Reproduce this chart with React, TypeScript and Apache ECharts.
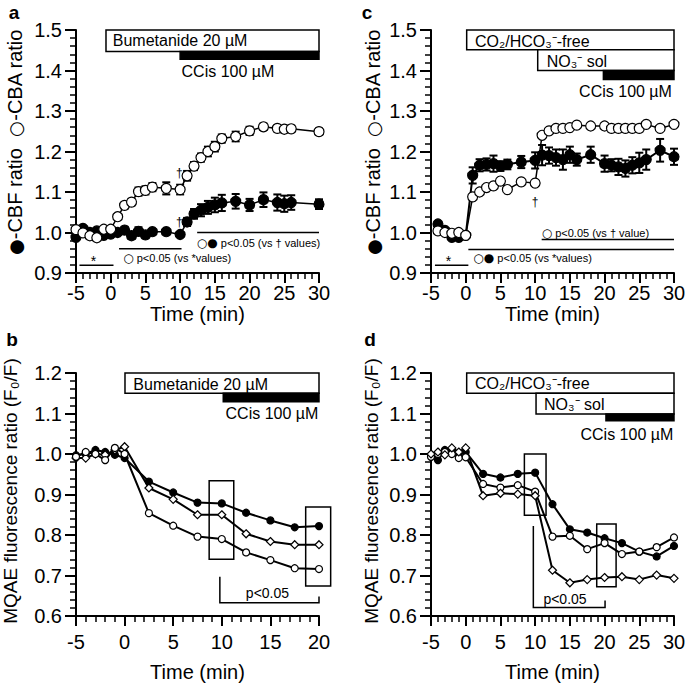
import React, { useEffect, useRef } from 'react';
import * as echarts from 'echarts';

const FONT = '"Liberation Sans", Arial, Helvetica, sans-serif';
const SYMFONT = '"DejaVu Sans", sans-serif';

// ---------- Panel a (CBF / CBA, bumetanide) ----------
const timeA = [-5, -4, -3, -2, -1, 0, 1, 2, 3, 4, 5, 6, 8, 10, 11, 12, 13, 14, 15, 16, 18, 20, 22, 24, 25, 26, 30];
const cbaA = [1.007, 0.999, 0.992, 0.987, 1.008, 1.008, 1.039, 1.067, 1.075, 1.101, 1.104, 1.112, 1.109, 1.106, 1.14, 1.164, 1.185, 1.2, 1.212, 1.232, 1.237, 1.251, 1.261, 1.257, 1.255, 1.256, 1.249];
const cbaAErr = [0.004, 0.004, 0.004, 0.004, 0.004, 0.004, 0.006, 0.008, 0.008, 0.01, 0.01, 0.01, 0.015, 0.012, 0.012, 0.01, 0.01, 0.012, 0.012, 0.01, 0.012, 0.01, 0.008, 0.008, 0.008, 0.008, 0.008];
const cbfA = [0.988, 1.01, 1.0, 1.004, 0.993, 0.996, 1.0, 1.006, 0.992, 1.003, 0.994, 1.002, 1.002, 0.995, 1.026, 1.046, 1.055, 1.062, 1.068, 1.073, 1.077, 1.068, 1.081, 1.074, 1.071, 1.074, 1.07];
const cbfAErr = [0.004, 0.004, 0.004, 0.004, 0.004, 0.004, 0.006, 0.008, 0.008, 0.01, 0.008, 0.006, 0.005, 0.006, 0.01, 0.012, 0.015, 0.016, 0.018, 0.02, 0.018, 0.015, 0.018, 0.02, 0.02, 0.018, 0.012];

// ---------- Panel c (CBF / CBA, CO2/HCO3- free, NO3-) ----------
const timeC = [-4, -3, -2, -1, 0, 1, 2, 3, 4, 5, 6, 8, 10, 11, 12, 13, 14, 15, 16, 18, 20, 21, 22, 23, 24, 25, 26, 28, 30];
const cbaC = [1.004, 1.0, 0.998, 1.0, 0.993, 1.088, 1.1, 1.111, 1.115, 1.127, 1.106, 1.125, 1.122, 1.24, 1.251, 1.257, 1.257, 1.259, 1.265, 1.263, 1.263, 1.257, 1.257, 1.257, 1.257, 1.257, 1.267, 1.257, 1.267];
const cbaCErr = [0.004, 0.004, 0.004, 0.004, 0.004, 0.005, 0.005, 0.005, 0.005, 0.005, 0.005, 0.005, 0.005, 0.005, 0.005, 0.005, 0.005, 0.005, 0.005, 0.005, 0.006, 0.008, 0.008, 0.008, 0.008, 0.008, 0.006, 0.006, 0.005];
const cbfC = [1.021, 1.005, 0.988, 0.988, 0.993, 1.141, 1.166, 1.168, 1.17, 1.164, 1.168, 1.174, 1.178, 1.191, 1.19, 1.185, 1.18, 1.192, 1.18, 1.192, 1.17, 1.166, 1.162, 1.158, 1.166, 1.172, 1.18, 1.203, 1.187];
const cbfCErr = [0.005, 0.005, 0.004, 0.004, 0.004, 0.02, 0.015, 0.015, 0.02, 0.012, 0.012, 0.015, 0.02, 0.025, 0.02, 0.02, 0.025, 0.02, 0.015, 0.02, 0.02, 0.015, 0.02, 0.02, 0.02, 0.025, 0.025, 0.028, 0.02];

// ---------- Panel b (MQAE, bumetanide) ----------
const timeB = [-5, -4, -3, -2, -1, 0, 2.5, 5, 7.5, 10, 12.5, 15, 17.5, 20];
const mqaeBFilled = [0.997, 1.0, 1.01, 1.005, 0.998, 0.99, 0.932, 0.905, 0.88, 0.878, 0.855, 0.836, 0.819, 0.822];
const mqaeBDiamond = [0.99, 0.99, 1.0, 0.998, 1.01, 1.018, 0.916, 0.888, 0.85, 0.85, 0.803, 0.784, 0.776, 0.776];
const mqaeBOpen = [0.993, 1.005, 1.0, 0.985, 1.015, 1.0, 0.854, 0.823, 0.796, 0.79, 0.757, 0.738, 0.718, 0.716];

// ---------- Panel d (MQAE, CO2/HCO3- free, NO3-) ----------
const timeD = [-5, -4, -3, -2, -1, 0, 2.5, 5, 7.5, 10, 12.5, 15, 17.5, 20, 22.5, 25, 27.5, 30];
const mqaeDFilled = [0.995, 0.985, 1.01, 1.005, 1.0, 1.005, 0.951, 0.942, 0.951, 0.954, 0.876, 0.814, 0.806, 0.792, 0.78, 0.759, 0.747, 0.773];
const mqaeDOpen = [0.993, 1.0, 1.005, 1.0, 0.99, 0.992, 0.926, 0.917, 0.923, 0.907, 0.796, 0.798, 0.765, 0.78, 0.753, 0.759, 0.77, 0.794];
const mqaeDDiamond = [1.0, 1.005, 0.998, 1.015, 1.005, 1.015, 0.897, 0.903, 0.901, 0.897, 0.713, 0.682, 0.69, 0.695, 0.697, 0.69, 0.701, 0.693];

// ---------- Annotations (data coordinates) ----------
const annotA = [
  { k: 'rect', x0: -0.68, x1: 30, y0: 1.447, y1: 1.5, fill: '#fff' },
  { k: 'rect', x0: 10, x1: 30, y0: 1.428, y1: 1.447, fill: '#000' },
  { k: 'text', x: 0.3, y: 1.474, s: 'Bumetanide 20 µM', size: 16 },
  { k: 'text', x: 10.2, y: 1.397, s: 'CCis 100 µM', size: 16 },
  { k: 'line', pts: [[-4.5, 0.919], [0.4, 0.919]] },
  { k: 'text', x: -2.5, y: 0.93, s: '*', size: 14, align: 'center' },
  { k: 'line', pts: [[1.2, 0.96], [10.2, 0.96]] },
  { k: 'text', x: 1.8, y: 0.936, s: '{s|○} p<0.05 (vs *values)', size: 11 },
  { k: 'line', pts: [[12.45, 1.0], [30, 1.0]] },
  { k: 'text', x: 12.4, y: 0.975, s: '{s|○●} p<0.05 (vs † values)', size: 11 },
  { k: 'text', x: 9.9, y: 1.146, s: '†', size: 12, align: 'center' },
  { k: 'text', x: 9.9, y: 1.026, s: '†', size: 12, align: 'center' },
];
const annotC = [
  { k: 'rect', x0: 0.14, x1: 30, y0: 1.451, y1: 1.5, fill: '#fff' },
  { k: 'rect', x0: 10.37, x1: 30, y0: 1.4, y1: 1.451, fill: '#fff' },
  { k: 'rect', x0: 19.83, x1: 30, y0: 1.378, y1: 1.4, fill: '#000' },
  { k: 'text', x: 1.34, y: 1.472, s: 'CO₂/HCO₃⁻-free', size: 16 },
  { k: 'text', x: 11.67, y: 1.423, s: 'NO₃⁻ sol', size: 16 },
  { k: 'text', x: 29.7, y: 1.348, s: 'CCis 100 µM', size: 16, align: 'right' },
  { k: 'line', pts: [[-4.43, 0.919], [0.38, 0.919]] },
  { k: 'text', x: -2.5, y: 0.93, s: '*', size: 14, align: 'center' },
  { k: 'line', pts: [[0.38, 0.958], [30, 0.958]] },
  { k: 'text', x: 1.1, y: 0.936, s: '{s|○●} p<0.05 (vs *values)', size: 11 },
  { k: 'line', pts: [[10.94, 0.983], [30, 0.983]] },
  { k: 'text', x: 10.94, y: 1.0, s: '{s|○} p<0.05 (vs † value)', size: 11 },
  { k: 'text', x: 9.98, y: 1.076, s: '†', size: 12, align: 'center' },
];
const annotB = [
  { k: 'rect', x0: 0.04, x1: 20, y0: 1.15, y1: 1.2, fill: '#fff' },
  { k: 'rect', x0: 10.15, x1: 20, y0: 1.129, y1: 1.15, fill: '#000' },
  { k: 'text', x: 0.9, y: 1.172, s: 'Bumetanide 20 µM', size: 16 },
  { k: 'text', x: 19.93, y: 1.1, s: 'CCis 100 µM', size: 16, align: 'right' },
  { k: 'rect', x0: 8.7, x1: 11.23, y0: 0.74, y1: 0.934, fill: 'none' },
  { k: 'rect', x0: 18.63, x1: 21.2, y0: 0.674, y1: 0.869, fill: 'none' },
  { k: 'line', pts: [[9.8, 0.697], [9.8, 0.633], [20, 0.633], [20, 0.648]] },
  { k: 'text', x: 14.7, y: 0.656, s: 'p<0.05', size: 14, align: 'center' },
];
const annotD = [
  { k: 'rect', x0: 0.14, x1: 30, y0: 1.15, y1: 1.2, fill: '#fff' },
  { k: 'rect', x0: 10.13, x1: 30, y0: 1.099, y1: 1.15, fill: '#fff' },
  { k: 'rect', x0: 20.2, x1: 30, y0: 1.082, y1: 1.099, fill: '#000' },
  { k: 'text', x: 1.34, y: 1.175, s: 'CO₂/HCO₃⁻-free', size: 16 },
  { k: 'text', x: 11.28, y: 1.123, s: 'NO₃⁻ sol', size: 16 },
  { k: 'text', x: 29.9, y: 1.047, s: 'CCis 100 µM', size: 16, align: 'right' },
  { k: 'rect', x0: 8.45, x1: 11.57, y0: 0.849, y1: 1.0, fill: 'none' },
  { k: 'rect', x0: 18.87, x1: 21.66, y0: 0.672, y1: 0.827, fill: 'none' },
  { k: 'line', pts: [[9.74, 0.822], [9.74, 0.621], [20.07, 0.621], [20.07, 0.638]] },
  { k: 'text', x: 14.3, y: 0.641, s: 'p<0.05', size: 14, align: 'center' },
];

function annotSeries(items: any[], idx: number, yRef: number) {
  return {
    type: 'custom',
    xAxisIndex: idx,
    yAxisIndex: idx,
    clip: false,
    silent: true,
    z: 5,
    data: items.map(() => [0, yRef]),
    renderItem: (params: any, api: any) => {
      const it = items[params.dataIndex];
      if (it.k === 'rect') {
        const p0 = api.coord([it.x0, it.y1]);
        const p1 = api.coord([it.x1, it.y0]);
        return {
          type: 'rect',
          shape: { x: p0[0], y: p0[1], width: p1[0] - p0[0], height: p1[1] - p0[1] },
          style: { fill: it.fill, stroke: '#000', lineWidth: 1.5 },
        };
      }
      if (it.k === 'line') {
        return {
          type: 'polyline',
          shape: { points: it.pts.map((p: number[]) => api.coord(p)) },
          style: { fill: 'none', stroke: '#000', lineWidth: 1.5 },
        };
      }
      const p = api.coord([it.x, it.y]);
      return {
        type: 'text',
        x: p[0],
        y: p[1],
        style: {
          text: it.s,
          fontSize: it.size,
          fontFamily: FONT,
          fill: '#000',
          align: it.align || 'left',
          verticalAlign: 'middle',
          rich: { s: { fontSize: 12, fontFamily: SYMFONT, fill: '#000' } },
        },
      };
    },
  };
}

function errSeries(t: number[], v: number[], e: number[], idx: number, z: number) {
  return {
    type: 'custom',
    xAxisIndex: idx,
    yAxisIndex: idx,
    silent: true,
    z,
    data: t.map((x, i) => [x, v[i], e[i]]),
    encode: { x: 0, y: 1 },
    renderItem: (params: any, api: any) => {
      const x = api.value(0);
      const y = api.value(1);
      const er = api.value(2);
      const top = api.coord([x, y + er]);
      const bot = api.coord([x, y - er]);
      const w = 4;
      const st = { stroke: '#000', lineWidth: 2 };
      return {
        type: 'group',
        children: [
          { type: 'line', shape: { x1: top[0], y1: top[1], x2: bot[0], y2: bot[1] }, style: st },
          { type: 'line', shape: { x1: top[0] - w, y1: top[1], x2: top[0] + w, y2: top[1] }, style: st },
          { type: 'line', shape: { x1: bot[0] - w, y1: bot[1], x2: bot[0] + w, y2: bot[1] }, style: st },
        ],
      };
    },
  };
}

function lineSeries(t: number[], v: number[], idx: number, symbol: string, size: number, fill: string, lw: number, z: number) {
  return {
    type: 'line',
    xAxisIndex: idx,
    yAxisIndex: idx,
    silent: true,
    z,
    data: t.map((x, i) => [x, v[i]]),
    symbol,
    symbolSize: size,
    showAllSymbol: true,
    itemStyle: { color: fill, borderColor: '#000', borderWidth: 1.2 },
    lineStyle: { color: '#000', width: lw },
  };
}

function xAx(idx: number, max: number, margin: number, nameGap: number) {
  return {
    type: 'value',
    gridIndex: idx,
    min: -5,
    max,
    interval: 5,
    axisLine: { onZero: false, lineStyle: { color: '#000', width: 2 } },
    axisTick: { length: 10, lineStyle: { color: '#000', width: 2 } },
    minorTick: { show: true, splitNumber: 5, length: 6, lineStyle: { color: '#000', width: 1.5 } },
    splitLine: { show: false },
    minorSplitLine: { show: false },
    axisLabel: { color: '#000', fontSize: 20, fontFamily: FONT, margin },
    name: 'Time (min)',
    nameLocation: 'middle',
    nameGap,
    nameTextStyle: { color: '#000', fontSize: 20, fontFamily: FONT },
  };
}

function yAx(idx: number, min: number, max: number) {
  return {
    type: 'value',
    gridIndex: idx,
    min,
    max,
    interval: 0.1,
    axisLine: { onZero: false, lineStyle: { color: '#000', width: 2 } },
    axisTick: { length: 11, lineStyle: { color: '#000', width: 2 } },
    minorTick: { show: true, splitNumber: 5, length: 6, lineStyle: { color: '#000', width: 1.5 } },
    splitLine: { show: false },
    minorSplitLine: { show: false },
    axisLabel: { color: '#000', fontSize: 20, fontFamily: FONT, margin: 14, formatter: (v: number) => v.toFixed(1) },
  };
}

export default function App() {
  const ref = useRef<HTMLDivElement>(null);
  useEffect(() => {
    if (!ref.current) return;
    const chart = echarts.init(ref.current, undefined, { renderer: 'svg' });
    const cbTitle = '{s|●}-CBF ratio  {s|○}-CBA ratio';
    const mqTitle = 'MQAE fluorescence ratio (F₀/F)';
    const titleStyle = (text: string, size: number, bold = false) => ({
      text,
      fontSize: size,
      fontFamily: FONT,
      fontWeight: bold ? 'bold' : 'normal',
      fill: '#000',
      align: 'center',
      verticalAlign: 'middle',
      rich: { s: { fontSize: 18, fontFamily: SYMFONT, fill: '#000' } },
    });
    chart.setOption({
      animation: false,
      backgroundColor: '#fff',
      grid: [
        { left: 76, top: 30, width: 243, height: 243, outerBoundsMode: 'none' },
        { left: 431, top: 30, width: 243, height: 243, outerBoundsMode: 'none' },
        { left: 76, top: 373, width: 243, height: 243, outerBoundsMode: 'none' },
        { left: 431, top: 373, width: 243, height: 243, outerBoundsMode: 'none' },
      ],
      xAxis: [xAx(0, 30, 10, 31), xAx(1, 30, 10, 31), xAx(2, 20, 16, 46), xAx(3, 30, 16, 46)],
      yAxis: [yAx(0, 0.9, 1.5), yAx(1, 0.9, 1.5), yAx(2, 0.6, 1.2), yAx(3, 0.6, 1.2)],
      graphic: [
        { type: 'text', x: 14, y: 12, style: titleStyle('a', 19, true) },
        { type: 'text', x: 367, y: 12, style: titleStyle('c', 19, true) },
        { type: 'text', x: 12, y: 339, style: titleStyle('b', 19, true) },
        { type: 'text', x: 370, y: 339, style: titleStyle('d', 19, true) },
        { type: 'text', x: 15, y: 142, rotation: Math.PI / 2, style: titleStyle(cbTitle, 20) },
        { type: 'text', x: 373, y: 142, rotation: Math.PI / 2, style: titleStyle(cbTitle, 20) },
        { type: 'text', x: 10, y: 491, rotation: Math.PI / 2, style: titleStyle(mqTitle, 19) },
        { type: 'text', x: 371, y: 491, rotation: Math.PI / 2, style: titleStyle(mqTitle, 19) },
      ],
      series: [
        // panel a
        errSeries(timeA, cbfA, cbfAErr, 0, 2),
        lineSeries(timeA, cbfA, 0, 'circle', 10, '#000', 1.5, 3),
        errSeries(timeA, cbaA, cbaAErr, 0, 4),
        lineSeries(timeA, cbaA, 0, 'circle', 10, '#fff', 1.5, 4),
        annotSeries(annotA, 0, 1.2),
        // panel c
        errSeries(timeC, cbfC, cbfCErr, 1, 2),
        lineSeries(timeC, cbfC, 1, 'circle', 10, '#000', 2, 3),
        errSeries(timeC, cbaC, cbaCErr, 1, 4),
        lineSeries(timeC, cbaC, 1, 'circle', 10, '#fff', 1.5, 4),
        annotSeries(annotC, 1, 1.2),
        // panel b
        lineSeries(timeB, mqaeBFilled, 2, 'circle', 7, '#000', 2, 3),
        lineSeries(timeB, mqaeBDiamond, 2, 'diamond', 8, '#fff', 2, 3),
        lineSeries(timeB, mqaeBOpen, 2, 'circle', 7, '#fff', 2, 3),
        annotSeries(annotB, 2, 0.9),
        // panel d
        lineSeries(timeD, mqaeDFilled, 3, 'circle', 7, '#000', 2, 3),
        lineSeries(timeD, mqaeDOpen, 3, 'circle', 7, '#fff', 2, 3),
        lineSeries(timeD, mqaeDDiamond, 3, 'diamond', 8, '#fff', 2, 3),
        annotSeries(annotD, 3, 0.9),
      ],
    });
    return () => chart.dispose();
  }, []);
  return <div ref={ref} style={{ position: 'fixed', left: 0, top: 0, width: 685, height: 683 }} />;
}
